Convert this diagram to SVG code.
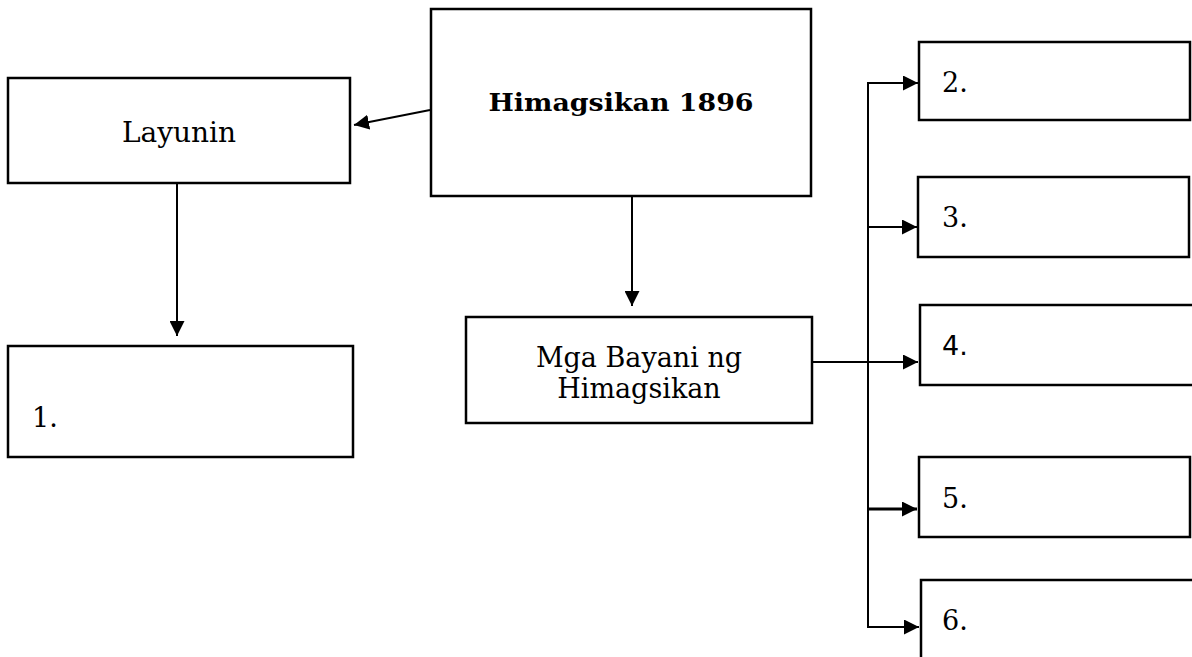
<svg xmlns="http://www.w3.org/2000/svg" width="1192" height="657" viewBox="0 0 1192 657">
<style>
.box{fill:#fff;stroke:#000;stroke-width:2.5}
.t{font-family:"DejaVu Serif","Liberation Serif",serif;font-size:28px;fill:#000}
.b{font-family:"DejaVu Serif","Liberation Serif",serif;font-size:27px;fill:#000}
.n{font-family:"DejaVu Serif","Liberation Serif",serif;font-size:27px;fill:#000}
.c{fill:none;stroke:#000;stroke-width:2}
</style>
<defs>
<marker id="ah" viewBox="0 0 10 10" refX="10" refY="5" markerWidth="15" markerHeight="15" markerUnits="userSpaceOnUse" orient="auto">
<path d="M0,0 L10,5 L0,10 Z" fill="#000"/>
</marker>
</defs>
<g id="connectors">
<line class="c" x1="430" y1="110" x2="354" y2="125" marker-end="url(#ah)"/>
<line class="c" x1="177" y1="183" x2="177" y2="336" marker-end="url(#ah)"/>
<line class="c" x1="632" y1="196" x2="632" y2="306" marker-end="url(#ah)"/>
<line class="c" x1="812" y1="362" x2="918" y2="362" marker-end="url(#ah)"/>
<line class="c" x1="868" y1="83" x2="868" y2="627"/>
<line class="c" x1="867" y1="83" x2="918" y2="83" marker-end="url(#ah)"/>
<line class="c" x1="868" y1="227" x2="917" y2="227" marker-end="url(#ah)"/>
<line class="c" x1="868" y1="509" x2="917" y2="509" marker-end="url(#ah)" style="stroke-width:3"/>
<line class="c" x1="867" y1="627" x2="919" y2="627" marker-end="url(#ah)"/>
</g>
<g id="layunin"><rect class="box" x="8" y="78" width="342" height="105"/><text class="t" x="179" y="142" text-anchor="middle">Layunin</text></g>
<g id="himagsikan"><rect class="box" x="431" y="9" width="380" height="187"/><text x="621" y="111" text-anchor="middle" font-family="DejaVu Serif, Liberation Serif, serif" font-weight="bold" font-size="24" textLength="265" lengthAdjust="spacingAndGlyphs">Himagsikan 1896</text></g>
<g id="box1"><rect class="box" x="8" y="346" width="345" height="111"/><text class="n" x="32" y="427">1.</text></g>
<g id="bayani"><rect class="box" x="466" y="317" width="346" height="106"/><text class="b" x="639" y="367" text-anchor="middle">Mga Bayani ng</text><text class="b" x="639" y="398" text-anchor="middle">Himagsikan</text></g>
<g id="box2"><rect class="box" x="919" y="42" width="271" height="78"/><text class="n" x="942" y="92">2.</text></g>
<g id="box3"><rect class="box" x="918" y="177" width="271" height="80"/><text class="n" x="942" y="227">3.</text></g>
<g id="box4"><rect class="box" x="920" y="305" width="280" height="80"/><text x="942" y="355" font-family="DejaVu Sans, Liberation Sans, sans-serif" font-size="27">4.</text></g>
<g id="box5"><rect class="box" x="919" y="457" width="271" height="80"/><text class="n" x="942" y="508">5.</text></g>
<g id="box6"><rect class="box" x="921" y="580" width="280" height="100"/><text class="n" x="942" y="630">6.</text></g>
</svg>
